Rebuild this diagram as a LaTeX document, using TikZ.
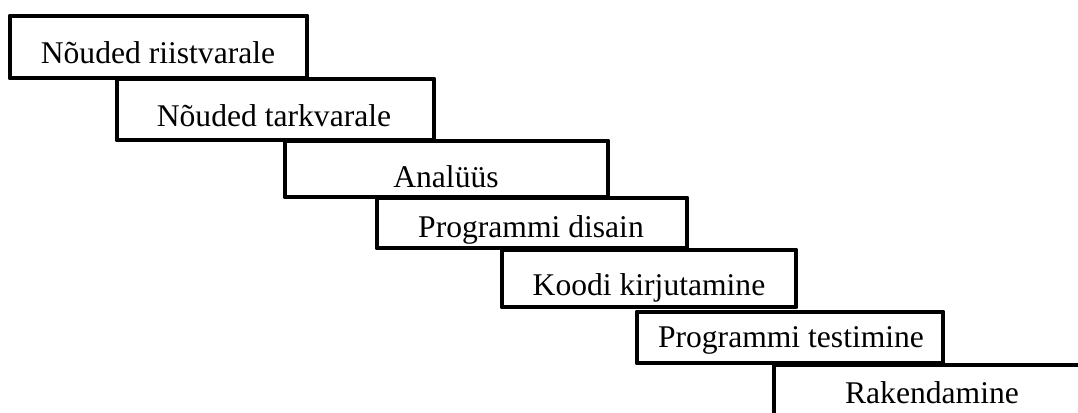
\documentclass[tikz,border=0pt]{standalone}
\usepackage{fontspec}
\setmainfont{Liberation Serif}
\begin{document}
\begin{tikzpicture}[x=0.75pt,y=-0.75pt,
  stage/.style={draw=black, fill=white, line width=3.7pt, rectangle,
    inner sep=0pt, outer sep=0pt, anchor=north west, line join=round},
  lbl/.style={anchor=base, inner sep=0pt,
    font=\fontsize{23.7pt}{28pt}\selectfont}]
  \clip (0,0) rectangle (1078,412);
  \fill[white] (0,0) rectangle (1078,412);
  % stairs of phases: corner (left, top), size w x h in px
  \node[stage, minimum width=297*0.75pt, minimum height=62*0.75pt] (s1) at (10,16) {};
  \node[stage, minimum width=317*0.75pt, minimum height=61*0.75pt] (s2) at (117,79) {};
  \node[stage, minimum width=323*0.75pt, minimum height=56*0.75pt] (s3) at (285,141) {};
  \node[stage, minimum width=310*0.75pt, minimum height=50*0.75pt] (s4) at (377,198) {};
  \node[stage, minimum width=294*0.75pt, minimum height=57*0.75pt] (s5) at (502,250) {};
  \node[stage, minimum width=306*0.75pt, minimum height=51*0.75pt] (s6) at (637,312) {};
  \node[stage, minimum width=330*0.75pt, minimum height=120*0.75pt] (s7) at (774,365) {};
  % phase names
  \node[lbl] (t1) at (158,63) {Nõuded riistvarale};
  \node[lbl] (t2) at (274,126) {Nõuded tarkvarale};
  \node[lbl] (t3) at (446,187) {Analüüs};
  \node[lbl] (t4) at (531,237) {Programmi disain};
  \node[lbl] (t5) at (649,295) {Koodi kirjutamine};
  \node[lbl] (t6) at (791,347) {Programmi testimine};
  \node[lbl] (t7) at (932,403) {Rakendamine};
\end{tikzpicture}
\end{document}
